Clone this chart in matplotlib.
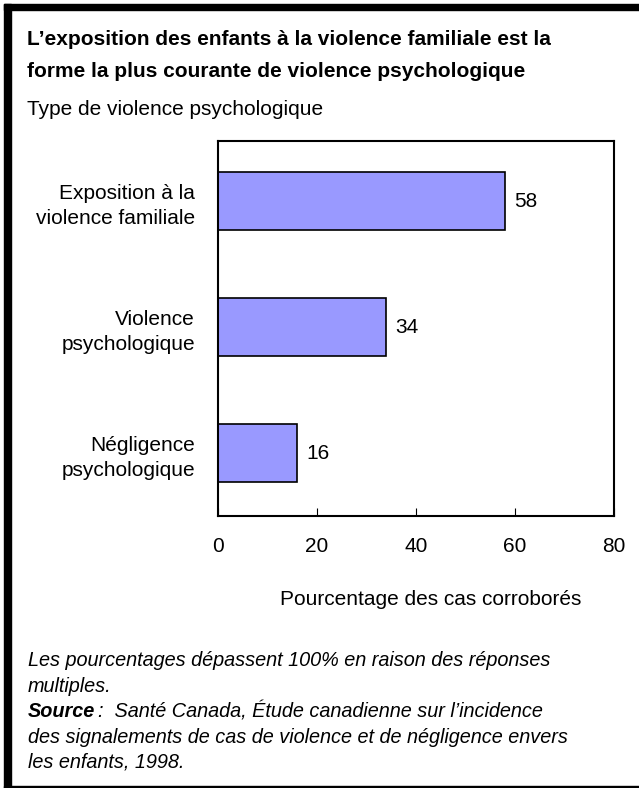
import matplotlib.pyplot as plt
from matplotlib.patches import Rectangle

plt.rcParams['font.family'] = ['Liberation Sans', 'DejaVu Sans']

# data
categories = ["Exposition à la\nviolence familiale",
              "Violence\npsychologique",
              "Négligence\npsychologique"]
values = [58, 34, 16]
xticks = [0, 20, 40, 60, 80]

title_lines = ["L’exposition des enfants à la violence familiale est la",
               "forme la plus courante de violence psychologique"]
subtitle = "Type de violence psychologique"
xlabel = "Pourcentage des cas corroborés"
note_lines = ["Les pourcentages dépassent 100% en raison des réponses",
              "multiples."]
source_rest = ":  Santé Canada, Étude canadienne sur l’incidence"
source_more = ["des signalements de cas de violence et de négligence envers",
               "les enfants, 1998."]

W, H = 639, 788
fig = plt.figure(figsize=(W / 100, H / 100), dpi=100)


def fy(y):
    # pixel row from the top -> figure fraction
    return 1 - y / H


# black frame: thick top and left bands, thin bottom line
fig.patches.append(Rectangle((4 / W, fy(9.5)), 1 - 4 / W, 5.5 / H,
                             transform=fig.transFigure, color='black'))
fig.patches.append(Rectangle((4 / W, 0), 7 / W, 1 - 4 / H,
                             transform=fig.transFigure, color='black'))
fig.patches.append(Rectangle((4 / W, 0), 1 - 4 / W, 2.5 / H,
                             transform=fig.transFigure, color='black'))

ax = fig.add_axes([218 / W, fy(516), 396 / W, 375 / H])
ypos = list(range(len(categories)))
bars = ax.barh(ypos, values, height=0.46, color='#9999ff',
               edgecolor='black', linewidth=1.2)
ax.set_ylim(2.5, -0.48)
ax.set_xlim(0, 80)
ax.set_yticks(ypos)
ax.set_yticklabels(categories, fontsize=15, ha='right', linespacing=1.4)
ax.tick_params(axis='y', length=0, pad=16.5)
ax.set_xticks(xticks)
ax.tick_params(axis='x', direction='in', length=6, labelsize=15, pad=15)
for s in ax.spines.values():
    s.set_linewidth(1.5)

for b, v in zip(bars, values):
    ax.text(v + 1.8, b.get_y() + b.get_height() / 2, str(v),
            va='center', ha='left', fontsize=15)

fig.text(431 / W, fy(605), xlabel, ha='center', va='baseline', fontsize=15)

fig.text(27 / W, fy(45), title_lines[0], ha='left', va='baseline',
         fontsize=15, fontweight='bold')
fig.text(27 / W, fy(77), title_lines[1], ha='left', va='baseline',
         fontsize=15, fontweight='bold')
fig.text(27 / W, fy(115), subtitle, ha='left', va='baseline', fontsize=15)

note_kw = dict(ha='left', va='baseline', fontsize=14.3, style='italic')
fig.text(28 / W, fy(666), note_lines[0], **note_kw)
fig.text(28 / W, fy(692), note_lines[1], **note_kw)
src = fig.text(28 / W, fy(717), "Source", ha='left', va='baseline',
               fontsize=14.3, style='italic', fontweight='bold')
ax.annotate(source_rest, xy=(1, 0), xycoords=src, xytext=(2, 0),
            textcoords='offset points', ha='left', va='bottom',
            fontsize=14.3, style='italic', annotation_clip=False)
fig.text(28 / W, fy(743), source_more[0], **note_kw)
fig.text(28 / W, fy(768), source_more[1], **note_kw)

fig.savefig('out.png', dpi=100)
